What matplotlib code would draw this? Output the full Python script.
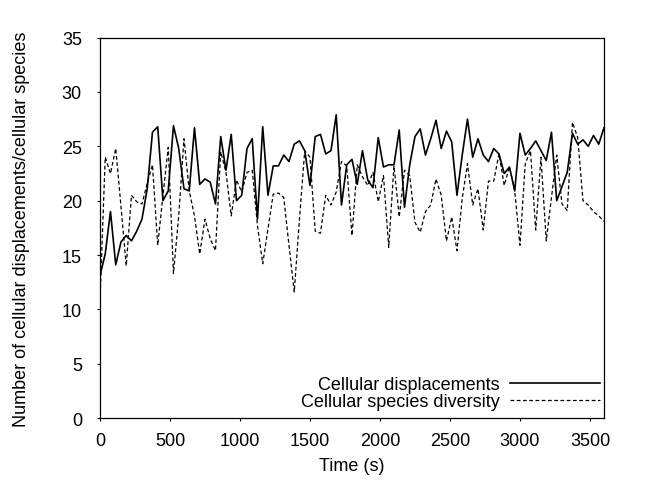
import matplotlib
matplotlib.use('Agg')
import matplotlib.pyplot as plt
import numpy as np

plt.rcParams['font.family'] = ['Liberation Sans', 'DejaVu Sans']
plt.rcParams['font.size'] = 13

displacements = [
    13.1, 15.1, 19.0, 14.1, 16.2, 16.8, 16.3, 17.2, 18.3, 21.1,
    26.3, 26.8, 20.0, 20.9, 26.9, 24.8, 21.1, 20.9, 26.7, 21.5,
    22.0, 21.7, 19.7, 25.9, 22.8, 26.1, 20.0, 20.5, 24.8, 25.7,
    18.3, 26.8, 20.5, 23.2, 23.2, 24.2, 23.6, 25.2, 25.5, 24.6,
    21.4, 25.9, 26.1, 24.3, 24.6, 27.9, 19.6, 23.3, 23.8, 21.5,
    24.6, 21.9, 21.2, 25.8, 23.1, 23.3, 23.3, 26.5, 19.4, 23.3,
    25.9, 26.6, 24.2, 25.7, 27.4, 24.8, 26.4, 25.4, 20.5, 24.2,
    27.5, 24.0, 25.7, 24.2, 23.6, 24.8, 24.3, 22.5, 23.1, 20.9,
    26.2, 24.2, 24.8, 25.5, 24.6, 23.7, 26.3, 20.0, 21.3, 22.6,
    26.2, 25.2, 25.6, 25.0, 26.0, 25.2, 26.7,
]

diversity = [
    10.8, 24.0, 22.5, 24.8, 19.5, 14.0, 20.5, 19.9, 19.7, 21.6,
    23.3, 15.9, 20.5, 24.9, 13.3, 18.6, 25.7, 20.9, 18.6, 15.1,
    18.3, 16.5, 15.4, 24.5, 22.6, 18.6, 21.9, 20.8, 22.6, 22.8,
    17.7, 14.2, 17.4, 20.6, 20.7, 20.3, 15.9, 11.6, 18.3, 24.6,
    24.0, 17.2, 17.0, 20.5, 19.6, 20.8, 23.6, 23.2, 16.8, 23.3,
    22.2, 21.4, 22.6, 19.9, 22.3, 15.7, 23.2, 18.5, 22.8, 22.3,
    18.0, 17.1, 19.0, 19.6, 22.0, 20.5, 16.3, 18.5, 15.4, 20.2,
    23.4, 19.6, 21.1, 17.3, 21.8, 21.8, 24.3, 21.4, 23.1, 20.9,
    15.9, 23.4, 24.6, 17.3, 24.0, 16.3, 20.3, 24.2, 19.7, 19.1,
    27.2, 25.8, 20.0, 19.6, 19.0, 18.6, 18.1,
]

# evenly spaced samples over one hour
time_s = np.linspace(0, 3600, len(displacements))

fig = plt.figure(figsize=(6.45, 4.89), dpi=100)
ax = fig.add_axes([0.155, 0.143, 0.7814, 0.778])

ax.plot(time_s, displacements, color='black', linewidth=1.2,
        label='Cellular displacements')
ax.plot(time_s, diversity, color='black', linewidth=0.9,
        linestyle=(0, (3, 2)), label='Cellular species diversity')

ax.set_xlim(0, 3600)
ax.set_ylim(0, 35)
ax.set_xticks(range(0, 3501, 500))
ax.set_yticks(range(0, 36, 5))
ax.tick_params(direction='out', length=2.5, width=0.8, labelsize=13)
ax.tick_params(axis='x', pad=7.5)
ax.tick_params(axis='y', pad=10.5)
for sp in ax.spines.values():
    sp.set_linewidth(0.9)

ax.set_xlabel('Time (s)', fontsize=13, labelpad=6)
ax.set_ylabel('Number of cellular displacements/cellular species', fontsize=13, labelpad=23)

ax.legend(loc='lower right', bbox_to_anchor=(0.992, 0.02), frameon=False,
          markerfirst=False, handlelength=5.0, handletextpad=0.55,
          labelspacing=0.0, borderpad=0.0, borderaxespad=0.0, fontsize=13)

fig.savefig('out.png', dpi=100, facecolor='white')
